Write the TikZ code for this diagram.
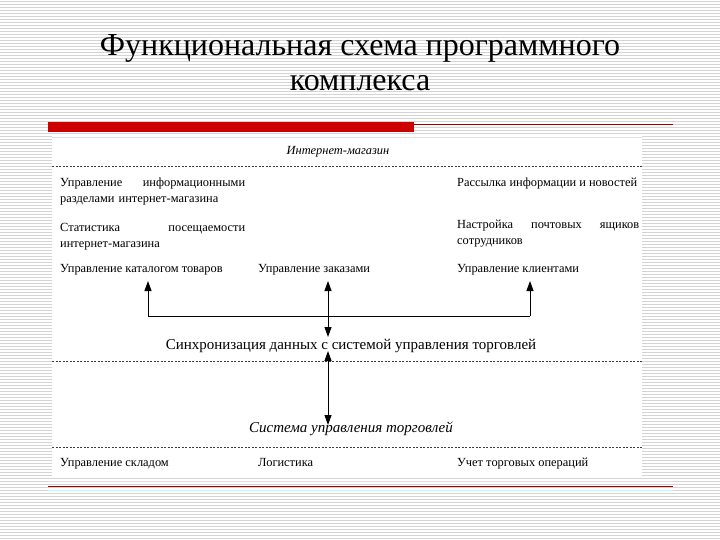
\documentclass[tikz,border=0pt]{standalone}
\usepackage{fontspec}
\setmainfont{Liberation Serif}
\usetikzlibrary{arrows.meta}
\definecolor{barred}{RGB}{204,0,0}
\definecolor{linered}{RGB}{110,20,20}
\definecolor{stripe}{RGB}{212,212,212}
\definecolor{dashc}{RGB}{60,60,60}
\begin{document}
\begin{tikzpicture}[x=1pt,y=-1pt,
  body/.style={anchor=north west,inner sep=0pt,font=\fontsize{12.4}{16}\selectfont},
  para/.style={body,align=left},
  big/.style={inner sep=0pt,font=\fontsize{15}{17}\selectfont},
  dline/.style={dashc,line width=0.6pt,dash pattern=on 2pt off 1.5pt},
  tip/.style={line width=1pt,-{Triangle[length=10pt,width=7pt]}},
  dtip/.style={line width=1pt,{Triangle[length=10pt,width=7pt]}-{Triangle[length=10pt,width=7pt]}}
]
\useasboundingbox (0,0) rectangle (720,540);
\fill[white] (0,0) rectangle (720,540);
\foreach \y in {1.5,4.5,...,540} \draw[stripe,line width=1pt] (0,\y) -- (720,\y);
% title
\node[anchor=base,inner sep=0pt,font=\fontsize{32}{36}\selectfont] (title1) at (360,56) {Функциональная схема программного};
\node[anchor=base,inner sep=0pt,font=\fontsize{32}{36}\selectfont] (title2) at (360,91) {комплекса};
% bars
\fill[barred] (48,122) rectangle (414,132);
\draw[linered,line width=0.9pt] (414,124) -- (673,124);
\fill[white] (52,134) rectangle (642,478);
\draw[cyan!25,line width=0.6pt] (52,137) -- (642,137);
\draw[cyan!25,line width=0.6pt] (48,481) -- (673,481);
\draw[linered,line width=0.9pt] (48,486) -- (673,486);
\draw[cyan!20,line width=0.6pt] (48,490) -- (673,490);
% dashed separators
\draw[dline] (52,166) -- (642,166);
\draw[dline] (52,361) -- (642,361);
\draw[dline] (52,447) -- (642,447);
% internet shop
\node[inner sep=0pt,font=\fontsize{12.4}{15}\selectfont\itshape] (shop) at (338,152) {Интернет-магазин};
\node[para,text width=185pt] (info) at (60,178) {Управление\hfill информационными\\разделами интернет-магазина};
\node[para,text width=185pt] (stat) at (60,223) {Статистика\hfill посещаемости\\интернет-магазина};
\node[body] (catalog) at (60,264) {Управление каталогом товаров};
\node[body] (orders) at (258,264) {Управление заказами};
\node[body] (mail) at (457,178) {Рассылка информации и новостей};
\node[para,text width=182pt] (boxes) at (457,220) {Настройка\hfill почтовых\hfill ящиков\\сотрудников};
\node[body] (clients) at (457,264) {Управление клиентами};
% sync
\node[big] (sync) at (351,346) {Синхронизация данных с системой управления торговлей};
% trade system
\node[big,font=\fontsize{15}{17}\selectfont\itshape] (tms) at (351,429) {Система управления торговлей};
\node[body] (store) at (60,458) {Управление складом};
\node[body] (logi) at (258,458) {Логистика};
\node[body] (ops) at (457,458) {Учет торговых операций};
% connectors
\coordinate (jl) at (148,316);
\coordinate (jm) at (328,316);
\coordinate (jr) at (530,316);
\coordinate (tl) at (148,281);
\coordinate (tm) at (328,281);
\coordinate (tr) at (530,281);
\coordinate (sm) at (328,337);
\coordinate (su) at (328,351);
\coordinate (td) at (328,425);
\draw[line width=1pt] (jl) -- (jr);
\draw[tip] (jl) -- (tl);
\draw[tip] (jr) -- (tr);
\draw[dtip] (tm) -- (sm);
\draw[dtip] (su) -- (td);
\end{tikzpicture}
\end{document}
